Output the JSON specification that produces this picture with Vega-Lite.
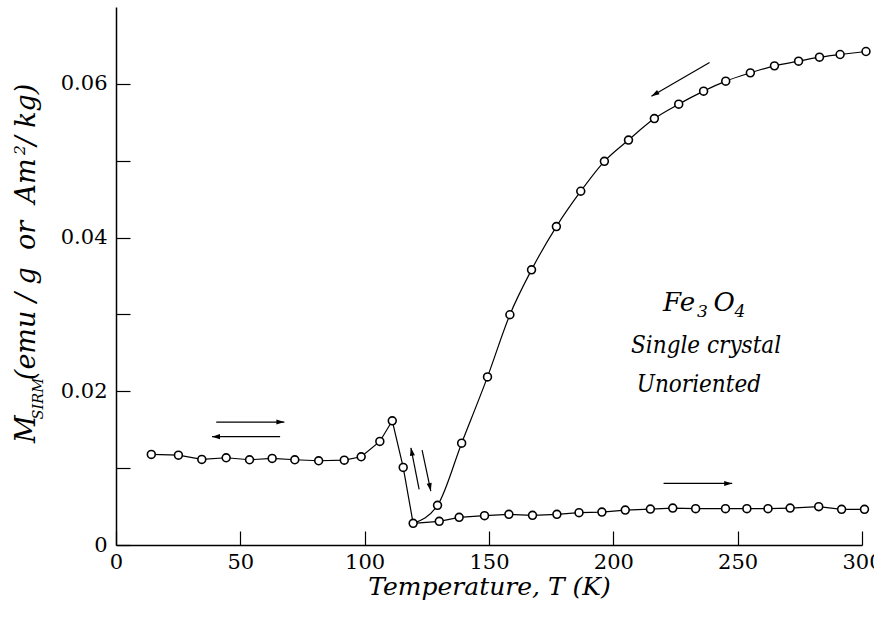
{
  "$schema": "https://vega.github.io/schema/vega-lite/v6.json",
  "width": 746,
  "height": 538,
  "autosize": {"type": "none"},
  "padding": {"left": 116, "top": 7, "right": 12, "bottom": 75},
  "background": "white",
  "config": {
    "view": {"stroke": null},
    "font": "DejaVu Serif",
    "axis": {"grid": false, "domainColor": "black", "tickColor": "black", "labelColor": "black", "titleColor": "black", "labelFont": "DejaVu Serif", "titleFont": "DejaVu Serif"}
  },
  "datasets": {
    "pts": [
      {"T": 301.6, "M": 0.06421, "segment": "upper"},
      {"T": 291.2, "M": 0.06382, "segment": "upper"},
      {"T": 282.9, "M": 0.06347, "segment": "upper"},
      {"T": 274.5, "M": 0.06295, "segment": "upper"},
      {"T": 264.8, "M": 0.06234, "segment": "upper"},
      {"T": 255.1, "M": 0.06143, "segment": "upper"},
      {"T": 245.2, "M": 0.06035, "segment": "upper"},
      {"T": 236.3, "M": 0.05905, "segment": "upper"},
      {"T": 226.3, "M": 0.05736, "segment": "upper"},
      {"T": 216.5, "M": 0.05548, "segment": "upper"},
      {"T": 206.1, "M": 0.05269, "segment": "upper"},
      {"T": 196.4, "M": 0.04992, "segment": "upper"},
      {"T": 186.9, "M": 0.04603, "segment": "upper"},
      {"T": 177.1, "M": 0.04143, "segment": "upper"},
      {"T": 167.1, "M": 0.0358, "segment": "upper"},
      {"T": 158.4, "M": 0.02996, "segment": "upper"},
      {"T": 149.4, "M": 0.02187, "segment": "upper"},
      {"T": 139.0, "M": 0.01325, "segment": "upper"},
      {"T": 129.3, "M": 0.00516, "segment": "upper"},
      {"T": 119.5, "M": 0.00282, "segment": "upper"},
      {"T": 119.5, "M": 0.00282, "segment": "left"},
      {"T": 115.5, "M": 0.01009, "segment": "left"},
      {"T": 111.1, "M": 0.01616, "segment": "left"},
      {"T": 106.1, "M": 0.01347, "segment": "left"},
      {"T": 98.6, "M": 0.01148, "segment": "left"},
      {"T": 91.8, "M": 0.01104, "segment": "left"},
      {"T": 81.5, "M": 0.01096, "segment": "left"},
      {"T": 71.9, "M": 0.01109, "segment": "left"},
      {"T": 62.8, "M": 0.01126, "segment": "left"},
      {"T": 53.7, "M": 0.01109, "segment": "left"},
      {"T": 44.3, "M": 0.01135, "segment": "left"},
      {"T": 34.5, "M": 0.01113, "segment": "left"},
      {"T": 25.1, "M": 0.01169, "segment": "left"},
      {"T": 14.2, "M": 0.01178, "segment": "left"},
      {"T": 119.5, "M": 0.00282, "segment": "lower"},
      {"T": 130.0, "M": 0.00308, "segment": "lower"},
      {"T": 138.0, "M": 0.0036, "segment": "lower"},
      {"T": 148.2, "M": 0.00381, "segment": "lower"},
      {"T": 158.0, "M": 0.00399, "segment": "lower"},
      {"T": 167.5, "M": 0.00386, "segment": "lower"},
      {"T": 177.3, "M": 0.00399, "segment": "lower"},
      {"T": 186.2, "M": 0.0042, "segment": "lower"},
      {"T": 195.4, "M": 0.00429, "segment": "lower"},
      {"T": 204.8, "M": 0.00455, "segment": "lower"},
      {"T": 214.9, "M": 0.00468, "segment": "lower"},
      {"T": 223.9, "M": 0.00481, "segment": "lower"},
      {"T": 233.1, "M": 0.00473, "segment": "lower"},
      {"T": 245.1, "M": 0.00473, "segment": "lower"},
      {"T": 253.7, "M": 0.00473, "segment": "lower"},
      {"T": 262.2, "M": 0.00473, "segment": "lower"},
      {"T": 271.1, "M": 0.00481, "segment": "lower"},
      {"T": 282.6, "M": 0.00499, "segment": "lower"},
      {"T": 291.8, "M": 0.00464, "segment": "lower"},
      {"T": 301.0, "M": 0.00464, "segment": "lower"}
    ],
    "arrows": [
      {"id": "a1", "T": 40.3, "M": 0.0160, "T2": 67.7, "M2": 0.0160},
      {"id": "a2", "T": 66.0, "M": 0.0141, "T2": 38.6, "M2": 0.0141},
      {"id": "a3", "T": 121.9, "M": 0.00723, "T2": 118.6, "M2": 0.01265},
      {"id": "a4", "T": 123.1, "M": 0.01234, "T2": 126.6, "M2": 0.00701},
      {"id": "a5", "T": 220.2, "M": 0.00801, "T2": 247.8, "M2": 0.00801},
      {"id": "a6", "T": 238.7, "M": 0.06278, "T2": 215.3, "M2": 0.0584}
    ],
    "notes": [
      {"role": "caption", "label": "Single crystal", "T": 237.3, "M": 0.02498},
      {"role": "caption", "label": "Unoriented", "T": 234.4, "M": 0.01995},
      {"role": "formula", "label": "Fe", "T": 220.0, "M": 0.03045},
      {"role": "formula", "label": "O", "T": 240.3, "M": 0.03045},
      {"role": "formula-sub", "label": "3", "T": 233.6, "M": 0.02966},
      {"role": "formula-sub", "label": "4", "T": 248.7, "M": 0.02966},
      {"role": "ytitle", "label": "M", "T": -32.5, "M": 0.01327},
      {"role": "ytitle", "label": " (emu / g\u00a0\u00a0or\u00a0\u00a0Am", "T": -32.5, "M": 0.02145},
      {"role": "ytitle", "label": " / kg)", "T": -32.5, "M": 0.05198},
      {"role": "ytitle-sub", "label": "SIRM", "T": -29.2, "M": 0.01634},
      {"role": "ytitle-sup", "label": "2", "T": -36.4, "M": 0.05074}
    ]
  },
  "layer": [
    {
      "data": {"name": "pts"},
      "transform": [{"filter": "datum.segment == 'upper'"}],
      "mark": {"type": "line", "interpolate": "monotone", "color": "black", "strokeWidth": 1.2},
      "encoding": {
        "x": {
          "field": "T", "type": "quantitative",
          "scale": {"domain": [0, 300], "nice": false, "zero": false},
          "axis": {
            "values": [0, 50, 100, 150, 200, 250, 300],
            "format": "d",
            "tickSize": -14, "tickWidth": 1.2,
            "domainWidth": 1.5,
            "labelPadding": 20, "labelFontSize": 21,
            "labelFlush": false, "labelOverlap": false,
            "title": "Temperature, T (K)",
            "titleFontSize": 25, "titleFontStyle": "italic", "titleFontWeight": "normal",
            "titlePadding": 2
          }
        },
        "y": {
          "field": "M", "type": "quantitative",
          "scale": {"domain": [0, 0.07], "nice": false},
          "axis": {
            "values": [0, 0.01, 0.02, 0.03, 0.04, 0.05, 0.06],
            "labelExpr": "datum.value == 0 ? '0' : (round(datum.value * 100) % 2 == 0 ? format(datum.value, '.2f') : '')",
            "tickSize": -14, "tickWidth": 1.2,
            "domainWidth": 1.5,
            "labelPadding": 23, "labelFontSize": 21,
            "labelFlush": false, "labelOverlap": false,
            "title": null
          }
        }
      }
    },
    {
      "data": {"name": "pts"},
      "transform": [{"filter": "datum.segment != 'upper'"}],
      "mark": {"type": "line", "color": "black", "strokeWidth": 1.2},
      "encoding": {
        "x": {"field": "T", "type": "quantitative"},
        "y": {"field": "M", "type": "quantitative"},
        "detail": {"field": "segment"}
      }
    },
    {
      "data": {"name": "arrows"},
      "mark": {"type": "rule", "color": "black", "strokeWidth": 1.2},
      "encoding": {
        "x": {"field": "T", "type": "quantitative"},
        "y": {"field": "M", "type": "quantitative"},
        "x2": {"field": "T2"},
        "y2": {"field": "M2"}
      }
    },
    {
      "data": {"name": "pts"},
      "transform": [{"filter": "datum.segment == 'upper' || datum.T < 119 || datum.T > 120"}],
      "mark": {"type": "point", "shape": "circle", "size": 62, "filled": true, "fill": "white", "stroke": "black", "strokeWidth": 1.6, "opacity": 1},
      "encoding": {
        "x": {"field": "T", "type": "quantitative"},
        "y": {"field": "M", "type": "quantitative"}
      }
    },
    {
      "data": {"name": "arrows"},
      "transform": [{"filter": "datum.id == 'a1' || datum.id == 'a5'"}],
      "mark": {"type": "point", "shape": "M0,0L-1,-0.32L-1,0.32Z", "size": 256, "filled": true, "color": "black", "opacity": 1, "angle": 0},
      "encoding": {"x": {"field": "T2", "type": "quantitative"}, "y": {"field": "M2", "type": "quantitative"}}
    },
    {
      "data": {"name": "arrows"},
      "transform": [{"filter": "datum.id == 'a2'"}],
      "mark": {"type": "point", "shape": "M0,0L-1,-0.32L-1,0.32Z", "size": 256, "filled": true, "color": "black", "opacity": 1, "angle": 180},
      "encoding": {"x": {"field": "T2", "type": "quantitative"}, "y": {"field": "M2", "type": "quantitative"}}
    },
    {
      "data": {"name": "arrows"},
      "transform": [{"filter": "datum.id == 'a3'"}],
      "mark": {"type": "point", "shape": "M0,0L-1,-0.32L-1,0.32Z", "size": 256, "filled": true, "color": "black", "opacity": 1, "angle": 259},
      "encoding": {"x": {"field": "T2", "type": "quantitative"}, "y": {"field": "M2", "type": "quantitative"}}
    },
    {
      "data": {"name": "arrows"},
      "transform": [{"filter": "datum.id == 'a4'"}],
      "mark": {"type": "point", "shape": "M0,0L-1,-0.32L-1,0.32Z", "size": 256, "filled": true, "color": "black", "opacity": 1, "angle": 78},
      "encoding": {"x": {"field": "T2", "type": "quantitative"}, "y": {"field": "M2", "type": "quantitative"}}
    },
    {
      "data": {"name": "arrows"},
      "transform": [{"filter": "datum.id == 'a6'"}],
      "mark": {"type": "point", "shape": "M0,0L-1,-0.32L-1,0.32Z", "size": 256, "filled": true, "color": "black", "opacity": 1, "angle": 150},
      "encoding": {"x": {"field": "T2", "type": "quantitative"}, "y": {"field": "M2", "type": "quantitative"}}
    },
    {
      "data": {"name": "notes"},
      "transform": [{"filter": "datum.role == 'caption'"}],
      "mark": {"type": "text", "font": "DejaVu Serif Condensed, DejaVu Serif", "fontStyle": "italic", "fontSize": 24, "align": "center", "baseline": "alphabetic", "color": "black"},
      "encoding": {"x": {"field": "T", "type": "quantitative"}, "y": {"field": "M", "type": "quantitative"}, "text": {"field": "label"}}
    },
    {
      "data": {"name": "notes"},
      "transform": [{"filter": "datum.role == 'formula'"}],
      "mark": {"type": "text", "font": "DejaVu Serif", "fontStyle": "italic", "fontSize": 26, "align": "left", "baseline": "alphabetic", "color": "black"},
      "encoding": {"x": {"field": "T", "type": "quantitative"}, "y": {"field": "M", "type": "quantitative"}, "text": {"field": "label"}}
    },
    {
      "data": {"name": "notes"},
      "transform": [{"filter": "datum.role == 'formula-sub'"}],
      "mark": {"type": "text", "font": "DejaVu Serif", "fontStyle": "italic", "fontSize": 17, "align": "left", "baseline": "alphabetic", "color": "black"},
      "encoding": {"x": {"field": "T", "type": "quantitative"}, "y": {"field": "M", "type": "quantitative"}, "text": {"field": "label"}}
    },
    {
      "data": {"name": "notes"},
      "transform": [{"filter": "datum.role == 'ytitle'"}],
      "mark": {"type": "text", "font": "DejaVu Serif", "fontStyle": "italic", "fontSize": 27, "align": "left", "baseline": "alphabetic", "angle": 270, "color": "black"},
      "encoding": {"x": {"field": "T", "type": "quantitative"}, "y": {"field": "M", "type": "quantitative"}, "text": {"field": "label"}}
    },
    {
      "data": {"name": "notes"},
      "transform": [{"filter": "datum.role == 'ytitle-sub'"}],
      "mark": {"type": "text", "font": "DejaVu Serif", "fontStyle": "italic", "fontSize": 14.5, "align": "left", "baseline": "alphabetic", "angle": 270, "color": "black"},
      "encoding": {"x": {"field": "T", "type": "quantitative"}, "y": {"field": "M", "type": "quantitative"}, "text": {"field": "label"}}
    },
    {
      "data": {"name": "notes"},
      "transform": [{"filter": "datum.role == 'ytitle-sup'"}],
      "mark": {"type": "text", "font": "DejaVu Serif", "fontStyle": "italic", "fontSize": 15.5, "align": "left", "baseline": "alphabetic", "angle": 270, "color": "black"},
      "encoding": {"x": {"field": "T", "type": "quantitative"}, "y": {"field": "M", "type": "quantitative"}, "text": {"field": "label"}}
    }
  ]
}
